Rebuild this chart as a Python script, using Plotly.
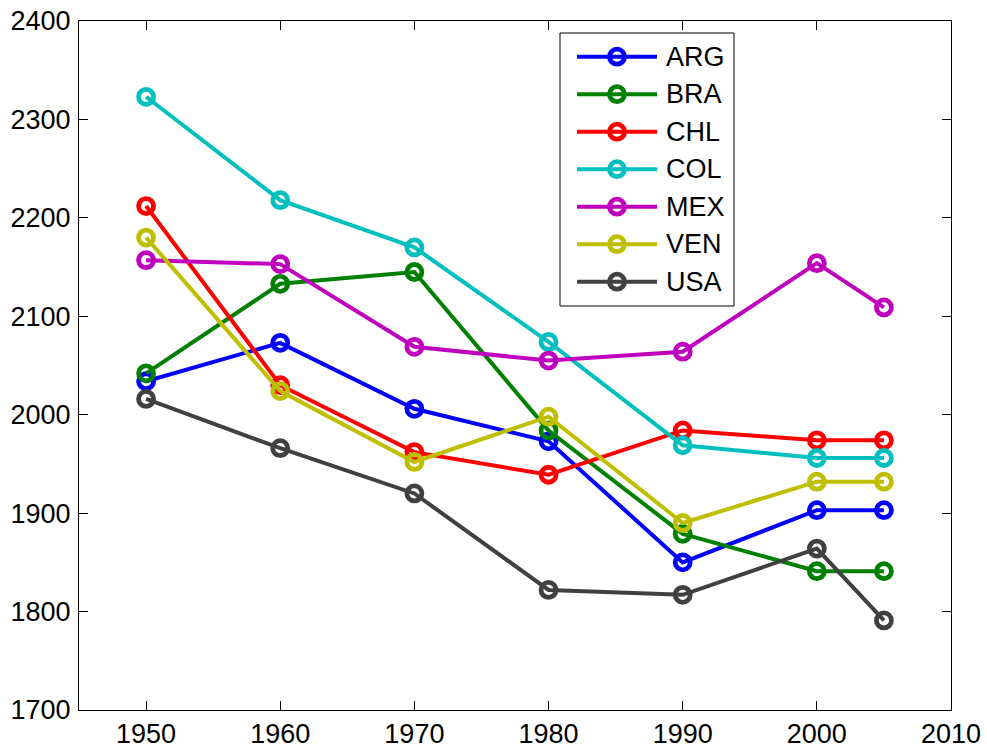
import plotly.graph_objects as go

years = [1950, 1960, 1970, 1980, 1990, 2000, 2005]
countries = ["ARG", "BRA", "CHL", "COL", "MEX", "VEN", "USA"]
ARG = [2034, 2073, 2006, 1973, 1850, 1903, 1903]
BRA = [2042, 2133, 2145, 1984, 1879, 1841, 1841]
CHL = [2212, 2030, 1962, 1939, 1984, 1974, 1974]
COL = [2323, 2218, 2170, 2074, 1969, 1956, 1956]
MEX = [2157, 2153, 2069, 2055, 2064, 2154, 2109]
VEN = [2180, 2024, 1952, 1998, 1890, 1932, 1932]
USA = [2016, 1966, 1920, 1822, 1817, 1864, 1791]
series = [ARG, BRA, CHL, COL, MEX, VEN, USA]
colors = ["#0000ff", "#008000", "#ff0000", "#00bfbf", "#bf00bf", "#bfbf00", "#404040"]

x_ticks = [1950, 1960, 1970, 1980, 1990, 2000, 2010]
y_ticks = [1700, 1800, 1900, 2000, 2100, 2200, 2300, 2400]

W, H = 987, 752
L, R, T, B = 79, 36, 21, 42
pw, ph = W - L - R, H - T - B

def px(x):
    return (x - L) / pw

def py(y):
    return (H - B - y) / ph

FONT = "Liberation Sans, Arial, Helvetica, sans-serif"
FS = 27

fig = go.Figure()
for name, vals, c in zip(countries, series, colors):
    fig.add_trace(go.Scatter(
        x=years, y=vals, name=name, mode="lines+markers",
        line=dict(color=c, width=4),
        marker=dict(symbol="circle-open", size=15, color=c, line=dict(width=4.8, color=c)),
        showlegend=False,
    ))

shapes = []
annotations = []
shapes.append(dict(type="rect", xref="paper", yref="paper",
                   x0=px(560), x1=px(734), y0=py(306), y1=py(33),
                   line=dict(color="black", width=1), fillcolor="white", layer="above"))
row0, gap = 56.7, 37.5
for i, (name, c) in enumerate(zip(countries, colors)):
    yc = row0 + i * gap
    shapes.append(dict(type="line", xref="paper", yref="paper",
                       x0=px(577), x1=px(657), y0=py(yc), y1=py(yc),
                       line=dict(color=c, width=4), layer="above"))
    shapes.append(dict(type="circle", xref="paper", yref="paper",
                       xsizemode="pixel", ysizemode="pixel",
                       xanchor=px(617), yanchor=py(yc),
                       x0=-7.5, x1=7.5, y0=-7.5, y1=7.5,
                       line=dict(color=c, width=4.8), layer="above"))
    annotations.append(dict(xref="paper", yref="paper", x=px(664), y=py(yc),
                            text=name, showarrow=False, xanchor="left", yanchor="middle",
                            font=dict(family=FONT, size=FS, color="black")))

axis_common = dict(showline=True, linecolor="black", linewidth=1, mirror="ticks",
                   ticks="inside", ticklen=9, tickwidth=1, tickcolor="black",
                   showgrid=False, zeroline=False, automargin=False,
                   tickfont=dict(family=FONT, size=FS, color="black"))

fig.update_layout(
    width=W, height=H,
    margin=dict(l=L, r=R, t=T, b=B, pad=0),
    plot_bgcolor="white", paper_bgcolor="white",
    xaxis=dict(range=[1945, 2010], tickvals=x_ticks, ticklabelstandoff=0, **axis_common),
    yaxis=dict(range=[1700, 2400], tickvals=y_ticks, ticklabelstandoff=2, **axis_common),
    shapes=shapes, annotations=annotations,
    showlegend=False,
)

fig.write_html("out.html")
